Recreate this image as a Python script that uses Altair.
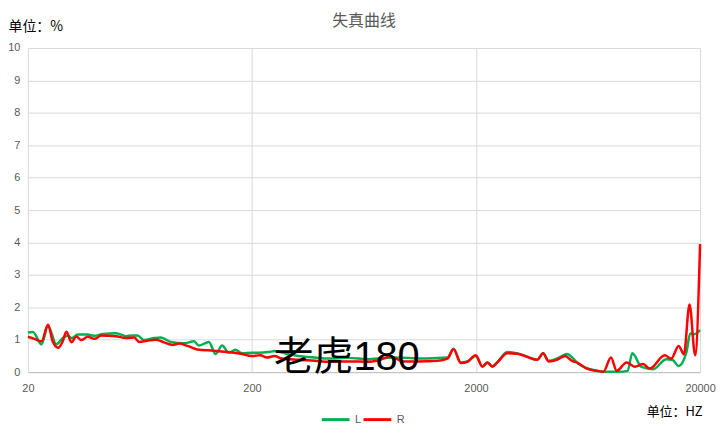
import altair as alt
import pandas as pd

# ---------------- data ----------------
title_text = "失真曲线"
series_names = ["L", "R"]
series_colors = ["#00b050", "#ff0000"]
x_ticks = [20, 200, 2000, 20000]
y_ticks = [0, 1, 2, 3, 4, 5, 6, 7, 8, 9, 10]
y_unit = "单位：%"
x_unit = "单位：HZ"

l_freq = [20, 21.05, 23.0, 24.6, 26.8, 28.7, 30.1, 31.4, 33.4, 37.0,
          39.7, 43.2, 49.5, 54.8, 58.5, 61.7, 66.1, 73.2, 78.4, 86.9,
          99.5, 110.2, 116, 128.5, 137.6, 147.2, 157.6, 168.8, 180.6, 200,
          214, 237, 253, 291, 322, 382, 438, 537, 659, 730,
          852, 992, 1156, 1348, 1492, 1588, 1710, 1831, 1994, 2136,
          2247, 2366, 2489, 2757, 3053, 3382, 3747, 3985, 4220, 4596,
          5088, 5736, 6245, 6916, 7530, 8632, 9498, 9964, 10956, 12340,
          14138, 15040, 16040, 17360, 18080, 18880, 20000]
l_val = [1.22, 1.24, 0.86, 1.42, 0.86, 1.06, 1.12, 1.05, 1.16, 1.16,
         1.12, 1.18, 1.20, 1.11, 1.13, 1.13, 0.99, 1.05, 1.07, 0.93,
         0.89, 0.95, 0.82, 0.93, 0.56, 0.82, 0.60, 0.69, 0.58, 0.60,
         0.60, 0.62, 0.65, 0.55, 0.50, 0.45, 0.42, 0.44, 0.40, 0.42,
         0.45, 0.44, 0.42, 0.44, 0.45, 0.72, 0.30, 0.33, 0.50, 0.18,
         0.30, 0.18, 0.30, 0.62, 0.58, 0.48, 0.38, 0.58, 0.35, 0.42,
         0.56, 0.25, 0.12, 0.04, 0.01, 0.01, 0.04, 0.58, 0.16, 0.09,
         0.40, 0.38, 0.19, 0.60, 1.19, 1.17, 1.30]

r_freq = [20, 21.5, 23.0, 24.6, 25.8, 27.3, 28.6, 29.7, 31.3, 32.9,
          34.6, 37.0, 39.7, 42.5, 46.2, 49.5, 54.8, 59.7, 62.8, 68.2,
          74.5, 81.1, 88.3, 94.6, 103, 114, 135, 155, 178, 200,
          218, 233, 252, 272, 322, 382, 438, 537, 659, 730,
          834, 943, 1099, 1348, 1492, 1588, 1710, 1831, 1994, 2136,
          2247, 2366, 2489, 2757, 3053, 3382, 3747, 3985, 4220, 4596,
          5000, 5354, 5637, 6245, 6916, 7404, 8006, 8486, 9392, 10228,
          11146, 11926, 13900, 14880, 16040, 16940, 17940, 19020, 20000]
r_val = [1.09, 1.02, 0.95, 1.46, 0.95, 0.75, 0.95, 1.25, 0.92, 1.10,
         0.99, 1.09, 1.03, 1.13, 1.12, 1.11, 1.05, 1.07, 0.93, 0.97,
         1.00, 0.92, 0.84, 0.88, 0.81, 0.70, 0.66, 0.62, 0.57, 0.50,
         0.52, 0.45, 0.50, 0.42, 0.38, 0.35, 0.32, 0.33, 0.32, 0.36,
         0.48, 0.33, 0.33, 0.35, 0.42, 0.71, 0.28, 0.32, 0.52, 0.17,
         0.30, 0.17, 0.30, 0.58, 0.57, 0.47, 0.38, 0.58, 0.33, 0.38,
         0.50, 0.35, 0.30, 0.11, 0.04, 0.01, 0.45, 0.04, 0.30, 0.17,
         0.25, 0.11, 0.52, 0.42, 0.81, 0.55, 2.09, 0.52, 3.95]

wm_text = ["老虎180"]
wm_freq = [530]
wm_val = [0.42]

# ---------------- tables ----------------
df_l = pd.DataFrame({"freq": l_freq, "val": l_val, "ch": series_names[0]})
df_r = pd.DataFrame({"freq": r_freq, "val": r_val, "ch": series_names[1]})
df_wm = pd.DataFrame({"freq": wm_freq, "val": wm_val, "txt": wm_text})

LABEL_FONT = "Liberation Sans, Noto Sans CJK SC"
CJK_FONT = "Noto Sans CJK SC"

x_enc = alt.X(
    "freq:Q",
    scale=alt.Scale(type="log", domain=[20, 20000], nice=False),
    axis=alt.Axis(
        values=x_ticks, format="d", title=x_unit, grid=True,
        gridColor="#d9d9d9", domainColor="#bfbfbf", ticks=False,
        labelFlush=False, labelOverlap=False, labelPadding=10,
        labelFontSize=11, labelColor="#595959", labelFont=LABEL_FONT,
        titleFont=CJK_FONT, titleFontSize=13, titleFontWeight="normal",
        titleColor="#000000", titleAnchor="end", titleAlign="right",
        titleBaseline="middle", titleX=678, titleY=40,
    ),
)
y_enc = alt.Y(
    "val:Q",
    scale=alt.Scale(domain=[0, 10], nice=False),
    axis=alt.Axis(
        values=y_ticks, title=y_unit, grid=True, gridColor="#d9d9d9",
        domain=False, ticks=False, labelOverlap=False, labelPadding=8,
        labelFontSize=11, labelColor="#595959", labelFont=LABEL_FONT,
        titleFont=CJK_FONT, titleFontSize=14, titleFontWeight="normal",
        titleColor="#000000", titleAngle=0, titleAlign="left",
        titleBaseline="middle", titleX=-20, titleY=-22,
    ),
)
color_enc = alt.Color(
    "ch:N",
    scale=alt.Scale(domain=series_names, range=series_colors),
    legend=alt.Legend(
        title=None, orient="none", direction="horizontal",
        legendX=294, legendY=358, symbolType="stroke",
        symbolSize=784, symbolStrokeWidth=3, labelFontSize=11,
        labelColor="#595959", labelFont=LABEL_FONT, labelOffset=4,
        columnPadding=-8, padding=0,
    ),
)

line_l = alt.Chart(df_l).mark_line(strokeWidth=2.5, interpolate="monotone").encode(
    x=x_enc, y=y_enc, color=color_enc
)
line_r = alt.Chart(df_r).mark_line(strokeWidth=2.5, interpolate="monotone").encode(
    x=x_enc, y=y_enc, color=color_enc
)
wm = alt.Chart(df_wm).mark_text(
    fontSize=40, font=LABEL_FONT, color="#000000", baseline="middle", align="center"
).encode(x=x_enc, y=y_enc, text="txt:N")

chart = (
    alt.layer(line_l, line_r, wm)
    .properties(
        width=676,
        height=326,
        autosize=alt.AutoSizeParams(type="none"),
        padding={"left": 20, "top": 39, "right": 16, "bottom": 60},
        title=alt.TitleParams(
            text=title_text, fontSize=16, color="#595959", font=CJK_FONT,
            fontWeight="normal", anchor="middle", offset=-10,
        ),
    )
    .configure_view(stroke=None)
)

chart.save("out.html", embed_options={"renderer": "svg", "actions": False})
